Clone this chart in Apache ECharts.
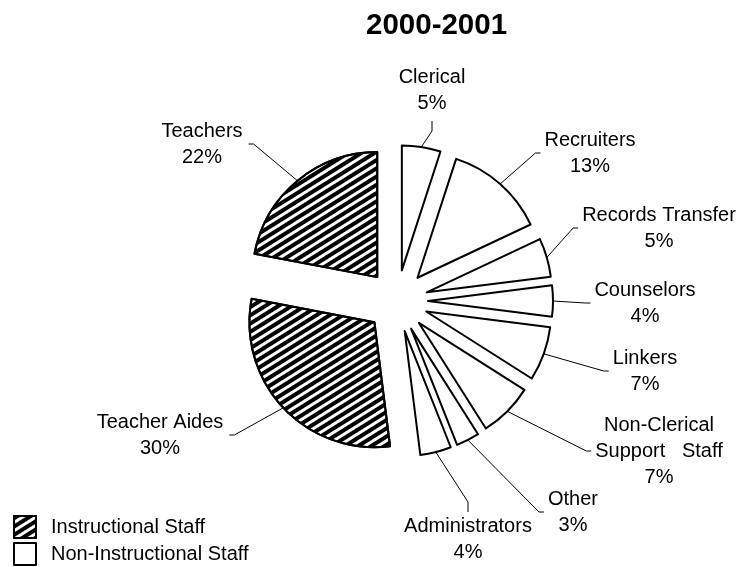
<!DOCTYPE html>
<html><head><meta charset="utf-8">
<script src="https://cdn.jsdelivr.net/npm/echarts@6/dist/echarts.min.js"></script>
<style>html,body{margin:0;padding:0;background:#fff}#c{width:738px;height:567px}</style>
</head><body><div id="c"></div>
<script>
// ---- data ----
const categories = ['Clerical', 'Recruiters', 'Records Transfer', 'Counselors', 'Linkers',
  'Non-Clerical\nSupport   Staff', 'Other', 'Administrators', 'Teacher Aides', 'Teachers'];
const percents = [5, 13, 5, 4, 7, 7, 3, 4, 30, 22];
const isInstructional = [false, false, false, false, false, false, false, false, true, true];
const legendNames = ['Instructional Staff', 'Non-Instructional Staff'];
const titleText = '2000-2001';

// ---- layout / style ----
const FONT = '"Liberation Sans", Arial, sans-serif';
const CX = 397, CY = 301, R = 125, OFF = 31;
// label block centres and the side of the block where the leader line attaches
const labelAnchor = [[432, 90], [590, 153], [659, 228], [645, 303], [645, 371],
  [659, 451], [573, 512], [468, 539], [160, 435], [202, 144]];
const labelSide = ['bottom', 'left', 'left', 'left', 'left', 'left', 'left', 'top', 'right', 'right'];

const hatch = {
  symbol: 'rect', symbolSize: 1, symbolKeepAspect: false,
  dashArrayX: [1, 0], dashArrayY: [4, 3],
  rotation: -Math.PI * 32 / 180, color: '#000'
};
function styleFor(inst, bw) {
  const s = { color: '#fff', borderColor: '#000', borderWidth: bw };
  if (inst) s.decal = hatch;
  return s;
}

const total = percents.reduce((a, b) => a + b, 0);
const midAngles = [];
{ let acc = 0; percents.forEach(v => { midAngles.push((acc + v / 2) / total * 2 * Math.PI); acc += v; }); }

const pieData = categories.map((c, i) => ({
  name: c, value: percents[i], selected: true,
  itemStyle: styleFor(isInstructional[i], 2),
  select: { itemStyle: styleFor(isInstructional[i], 2) }
}));
const labelData = categories.map((c, i) => ({ name: c, value: percents[i] }));

const chart = echarts.init(document.getElementById('c'));
chart.setOption({
  animation: false,
  title: {
    text: titleText, left: 366, top: 11, padding: 0,
    textStyle: { fontFamily: FONT, fontSize: 29.5, fontWeight: 'bold', color: '#000' }
  },
  legend: {
    orient: 'vertical', left: 13, top: 515, padding: 0,
    icon: 'rect', itemWidth: 22, itemHeight: 22, itemGap: 3,
    selectedMode: false,
    data: legendNames,
    textStyle: { fontFamily: FONT, fontSize: 20, color: '#000', padding: [0, 0, 0, 10] }
  },
  series: [{
    type: 'pie', name: 'slices',
    center: [CX, CY], radius: R,
    startAngle: 90, clockwise: true,
    selectedMode: 'multiple', selectedOffset: OFF,
    emphasis: { disabled: true },
    label: { show: false }, labelLine: { show: false },
    data: pieData
  }, {
    type: 'pie', name: 'labels', silent: true, z: 3,
    center: [CX, CY], radius: R,
    startAngle: 90, clockwise: true,
    selectedMode: false, avoidLabelOverlap: false,
    emphasis: { disabled: true },
    itemStyle: { color: 'rgba(0,0,0,0)', borderWidth: 0 },
    label: {
      show: true, position: 'outside', fontFamily: FONT, fontSize: 20, lineHeight: 26,
      color: '#000', align: 'center', formatter: p => p.name + '\n' + p.value + '%'
    },
    labelLine: { show: true, lineStyle: { color: '#000', width: 1 } },
    labelLayout: function (params) {
      const i = params.dataIndex;
      const a = midAngles[i];
      const dx = Math.sin(a), dy = -Math.cos(a);
      const p0 = [CX + (R + OFF) * dx, CY + (R + OFF) * dy];
      const [lx, ly] = labelAnchor[i];
      const w = params.labelRect.width, h = params.labelRect.height;
      let end, bend;
      switch (labelSide[i]) {
        case 'left': end = [lx - w / 2 - 4, ly]; bend = [end[0] - 5, ly]; break;
        case 'right': end = [lx + w / 2 + 6, ly]; bend = [end[0] + 5, ly]; break;
        case 'bottom': end = [lx, ly + h / 2 + 5]; bend = [lx, end[1] + 10]; break;
        default: end = [lx, ly - h / 2 - 1]; bend = [lx, end[1] - 10];
      }
      return { x: lx, y: ly, align: 'center', verticalAlign: 'middle', labelLinePoints: [p0, bend, end] };
    },
    data: labelData
  }, {
    type: 'pie', silent: true, center: [-100, -100], radius: [0, 0],
    label: { show: false }, labelLine: { show: false },
    data: legendNames.map((n, k) => ({ name: n, value: 1, itemStyle: styleFor(k === 0, 1.5) }))
  }]
});
</script></body></html>
